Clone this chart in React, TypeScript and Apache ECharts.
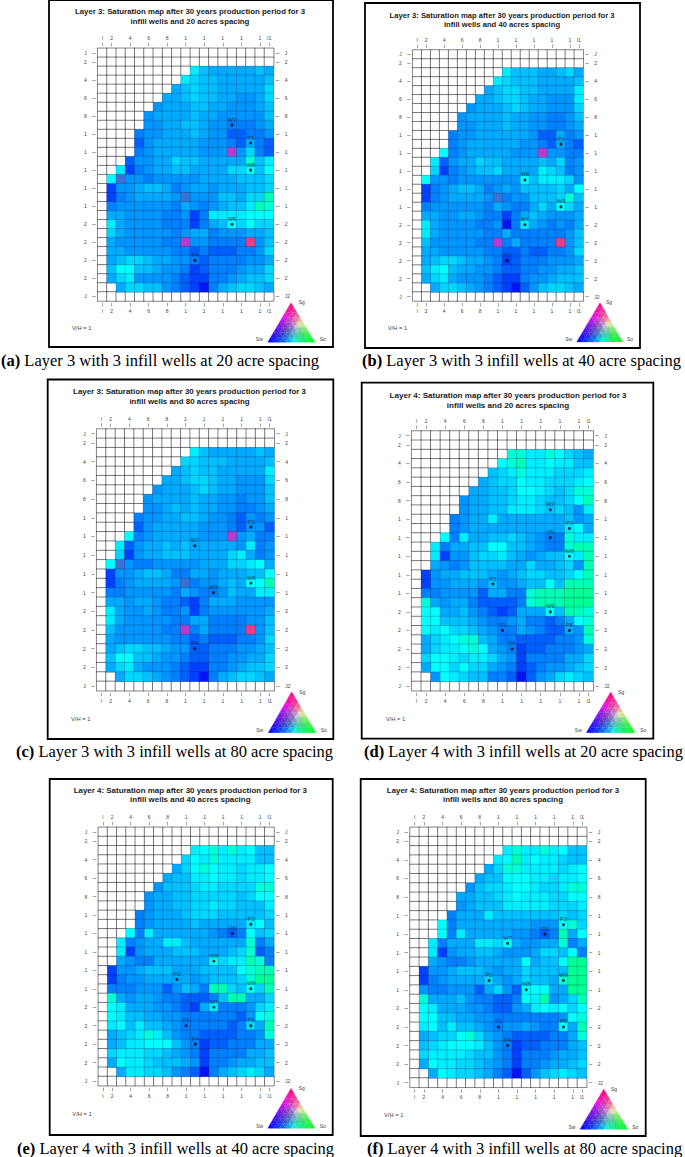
import React, { useEffect, useRef } from "react";
import * as echarts from "echarts";

// Column and row tick labels
const colLabels = ["I","2","","4","","6","","8","","1","","1","","1","","1","","1","I1"];
const rowLabels = ["J","2","","4","","6","","8","","1","","1","","1","","1","","1","","2","","2","","2","","2","","J"];
const rowLabelsRight = ["J","2","","4","","6","","8","","1","","1","","1","","1","","1","","2","","2","","2","","2","","J2"];

// Saturation classes: "." unfilled; 0-9,a,b,c go from water-rich (blue) to oil-rich (green);
// g grey-blue cell, m purple cell, p pink cell
const classCodes = ".0123456789abcgmp";
const classColors = ["#ffffff","#0014f4","#0040ff","#0060ff","#0080ff","#0096ff","#00abff","#00c0ff","#00d6ff","#00ecff","#00ffff","#00ffd8","#00ffb4","#00ff94","#3a72d2","#b83ccc","#e83e8c"];

const rowsA = [
"...................","...................",
"..........865555565",".........8766555556","........56766555557",".......556766554457",
"......4555665544456",".....45555655444446",".....44556654433345","....344555654422334",
"....245555544432532","....3455555444m4732","...2445576655555a68","..81345566555577969",
".9g4434444455556667",".144566534554555667",".13455554g44466577b",".3444444354345668ba",
".554444334138888999",".854444333135697977",".754444434553444556",".54444433m443333p46",
".554444433232223347",".567765544323333445",".699665443123334557",".578444432113345667",
"..57766432103567765","..................."];
const rowsB = [
"...................","...................",
"..........866655675",".........8766655556","........56776655558",".......556776554448",
"......4555676554447",".....45555655443346",".....44555655443345","....344555555422534",
"....345555554432532","...93455555444m4433","..82455766555565734","..71345667555587634",
".944344444449688874",".134566534546666759",".13455554g3446667a6",".344444435433575975",
".554455433135654445",".854444334038543435",".854444433533333346",".64444433m353333p46",
".554444433223223347",".567765543123334445",".689655443223344556",".578544432113445666",
"..57765432102467765","..................."];
const rowsC = [
"...................","...................",
"..........865555565",".........7766655556","........56766555558",".......556776554447",
"......4555676554446",".....45555655443446",".....44565655443345","....344556654432434",
"....245555544432442","...93455555444m4533","..82455656555554834","..71455666555578534",
".9g4334444455577895",".144566533554555669",".13455554g34456599b",".334444435433465588",
".554554332135554444",".854454334134444445",".854444433553333446",".64444433m353333p46",
".544444433232223347",".567766544223334456",".699665443223344557",".578544432113345667",
"..57765432103567765","..................."];
const rowsD = [
"...................","...................",
"..........aa88a9765",".........9ab8898866","........678a8887778",".......567798877789",
"......55667998767aa",".....4556678876679b",".....45566888767648","....345585555555645",
"....345555555555895","...9385566765433a88","..83556699665433abb","..8144677865456698b",
"..5434666655755674b",".14556665456776679b",".144555464456696bbb",".33444425533abbbccc",
".a5455322223abbbccc",".995564321255596bba",".99666543345332359a",".98977654335432254b",
".5789aa65332222334a",".57889a954312233345",".799878875413333557",".599797754312344567",
"..49876633202457876","..................."];
const rowsE = [
"...................","...................",
"..........89a8a8966",".........798a888866","........579a9887889",".......566889887889",
"......46667887777aa",".....45566777776799",".....45566778776668","....345556777666667",
"....345555655555896","...9385555554323967","..83455886555555a35","..81455566655567a23",
"..54335555559788ba3",".144566655566669abb",".134455555456667acc",".33344424653bb7697b",
".a545543322236bb557",".985554432158333478",".98665544333333249a",".89686654333332375b",
".5678a864332222334a",".568899964312233355",".788877654313333556",".598876665413345566",
"..58877643203567875","..................."];
const rowsF = [
"...................","...................",
"..........8a88a8966",".........89b8988766","........57aa8888789",".......566999887889",
"......46778998778aa",".....55667898887799",".....45666888887778","....355586666666767",
"...93555555554449a7","...9385555544323b59","..83555887954455a35","..81455665444577693",
"..543345555595669cc",".1445666545576666cc",".134555575457665acc",".4334442574299955cc",
".a555643322398b457b",".985554432245898979",".99665544333333349a",".89686654344543395b",
".56779a75432222335a",".678999864312233356",".788887664313334556",".598877654313345567",
"..59877653202467876","..................."];

// Wells: name, column index, row index
const wellsA: [string, number, number][] = [["W7",14,8],["P3",16,10],["W8",16,13],["W9",14,19],["P4",10,23]];
const wellsB: [string, number, number][] = [["P3",16,10],["W8",12,14],["W9",16,17],["W7",12,19],["P4",10,23]];
const wellsC: [string, number, number][] = [["P3",16,10],["W7",10,12],["W8",16,16],["W9",12,17],["P4",10,23]];
const wellsD: [string, number, number][] = [["W7",14,8],["P3",16,10],["P5",14,11],["W8",16,13],["P2",8,16],["W9",14,19],["P1",9,21],["P6",16,21],["P4",10,23]];
const wellsE: [string, number, number][] = [["P3",16,10],["P5",14,11],["W8",12,14],["P2",8,16],["W9",16,17],["W7",12,19],["P1",9,21],["P6",16,21],["P4",10,23]];
const wellsF: [string, number, number][] = [["P3",16,10],["P5",14,11],["W7",10,12],["P2",8,16],["W9",16,16],["W8",12,17],["P1",9,21],["P6",16,21],["P4",10,23]];

const titles = [
  ["Layer 3: Saturation map after 30 years production period for 3","infill wells and 20 acres spacing"],
  ["Layer 3: Saturation map after 30 years production period for 3","infill wells and 40 acres spacing"],
  ["Layer 3: Saturation map after 30 years production period for 3","infill wells and 80 acres spacing"],
  ["Layer 4: Saturation map after 30 years production period for 3","infill wells and 20 acres spacing"],
  ["Layer 4: Saturation map after 30 years production period for 3","infill wells and 40 acres spacing"],
  ["Layer 4: Saturation map after 30 years production period for 3","infill wells and 80 acres spacing"],
];
const captionTags = ["(a)","(b)","(c)","(d)","(e)","(f)"];
const captions = [
  "Layer 3 with 3 infill wells at 20 acre spacing",
  "Layer 3 with 3 infill wells at 40 acre spacing",
  "Layer 3 with 3 infill wells at 80 acre spacing",
  "Layer 4 with 3 infill wells at 20 acre spacing",
  "Layer 4 with 3 infill wells at 40 acre spacing",
  "Layer 4 with 3 infill wells at 80 acre spacing",
];

const panelRows = [rowsA, rowsB, rowsC, rowsD, rowsE, rowsF];
const panelWells = [wellsA, wellsB, wellsC, wellsD, wellsE, wellsF];

// Layout of each panel, in page pixels
const layouts = [
  { frame:[49,0,284,347], plot:[97.7,48.3,176,252.7], titleX:190, titleY:[11.7,21], titleSize:7.83, tri:[291,302.7,267.7,315,342.3], sg:[301.7,302], sw:[259.3,339.3], so:[322.7,339.3], vh:[72,328], cap:[1,360] },
  { frame:[365,3,275,345], plot:[412.7,50,170.6,251], titleX:502, titleY:[15.7,24.7], titleSize:7.67, tri:[600,302.7,576.7,622.7,342], sg:[609,302], sw:[568.7,339], so:[630,339], vh:[387.7,328], cap:[362,360] },
  { frame:[47.7,379.5,285.6,359.5], plot:[96.7,429,177.6,261.7], titleX:189.5, titleY:[391.7,401], titleSize:7.93, tri:[291.7,691.7,268.3,316,732.7], sg:[302.3,691.7], sw:[259.7,730], so:[323.7,730], vh:[71,718.7], cap:[16,751.7] },
  { frame:[361.7,382.7,291.6,356], plot:[411.7,431,181.6,259.7], titleX:508, titleY:[395.7,405], titleSize:8.07, tri:[610.7,692,586.3,635,732.7], sg:[621.3,692], sw:[578.3,730], so:[643.3,730], vh:[385.7,718.7], cap:[364,751.7] },
  { frame:[49.7,779,283,356], plot:[98.3,827.3,175.7,258.4], titleX:190.3, titleY:[790.3,799.7], titleSize:7.94, tri:[291,1088.3,267.7,315,1128.3], sg:[301.7,1087.7], sw:[259.7,1126], so:[322.7,1126], vh:[72.3,1114], cap:[17,1148] },
  { frame:[360.7,779,285,357], plot:[410,827.3,176.7,260], titleX:503, titleY:[790.3,799.7], titleSize:7.92, tri:[603.7,1089,580,627.7,1129.3], sg:[614,1089], sw:[572,1126.7], so:[635.3,1126.7], vh:[384,1115], cap:[367,1148] },
];

const SANS = '"Liberation Sans", Arial, sans-serif';
const SERIF = '"Liberation Serif", "Times New Roman", serif';

function ternaryColor(w: number, o: number, g: number): string {
  let r = g, gr = o, b = w + 0.5 * g + 0.12 * o;
  const m = Math.max(r, gr, b);
  const dim = 1 - 0.25 * 27 * w * o * g;
  r = (r / m) * dim; gr = (gr / m) * dim; b = (b / m) * dim;
  return `rgb(${Math.round(r * 255)},${Math.round(gr * 255)},${Math.round(b * 255)})`;
}

function ternaryLegend(tri: number[]) {
  const [ax, ay, lx, rx, by] = tri;
  const n = 8;
  const pt = (row: number, k: number) => {
    const t = row / n;
    const left = ax + (lx - ax) * t, right = ax + (rx - ax) * t;
    const x = row === 0 ? ax : left + ((right - left) * k) / row;
    return [x, ay + (by - ay) * t];
  };
  const bary = (row: number, k: number) => {
    const g = 1 - row / n;
    const o = k / n;
    return [1 - g - o, o, g];
  };
  const out: any[] = [];
  const add = (verts: [number, number][]) => {
    const bs = verts.map(([a, b]) => bary(a, b));
    const avg = [0, 1, 2].map((i) => (bs[0][i] + bs[1][i] + bs[2][i]) / 3);
    const fill = ternaryColor(avg[0], avg[1], avg[2]);
    out.push({
      type: "polygon",
      z: 5,
      shape: { points: verts.map(([a, b]) => pt(a, b)) },
      style: { fill, stroke: fill, lineWidth: 0.3 },
    });
  };
  for (let row = 0; row < n; row++) {
    for (let k = 0; k <= row; k++) {
      add([[row, k], [row + 1, k], [row + 1, k + 1]]);
      if (k < row) add([[row, k], [row, k + 1], [row + 1, k + 1]]);
    }
  }
  return out;
}

function smallText(text: string, x: number, y: number, align = "center", size = 5) {
  return {
    type: "text", x, y, z: 6,
    style: { text, fill: "#444", font: `${size}px ${SANS}`, align, verticalAlign: "middle" },
  };
}

function buildOption() {
  const grid: any[] = [], xAxis: any[] = [], yAxis: any[] = [], series: any[] = [], graphic: any[] = [];
  const heatIndices: number[] = [];
  const show = (_: number, v: string) => v !== "";
  layouts.forEach((l, i) => {
    const [gx, gy, gw, gh] = l.plot;
    grid.push({ left: gx, top: gy, width: gw, height: gh, containLabel: false, show: false });
    const xCommon = {
      type: "category", gridIndex: i, data: colLabels, offset: 2,
      axisLine: { show: false },
      splitLine: { show: false },
      axisTick: { show: true, alignWithLabel: true, length: 3.5, interval: show, lineStyle: { color: "#666", width: 0.6 } },
      axisLabel: { show: true, interval: show, fontSize: 5, margin: 5.5, color: "#444", fontFamily: SANS },
    };
    xAxis.push({ ...xCommon, position: "bottom" }, { ...xCommon, position: "top" });
    const yCommon = {
      type: "category", gridIndex: i, inverse: true, offset: 2,
      axisLine: { show: false },
      splitLine: { show: false },
      axisTick: { show: true, alignWithLabel: true, length: 3.5, interval: show, lineStyle: { color: "#666", width: 0.6 } },
      axisLabel: { show: true, interval: show, fontSize: 5, margin: 9, color: "#444", fontFamily: SANS },
    };
    yAxis.push({ ...yCommon, data: rowLabels, position: "left" }, { ...yCommon, data: rowLabelsRight, position: "right" });

    const blank: number[][] = [];
    const filled: number[][] = [];
    panelRows[i].forEach((row, r) => {
      const s = row.padStart(19, ".");
      for (let c = 0; c < 19; c++) {
        const v = classCodes.indexOf(s[c]);
        (v === 0 ? blank : filled).push([c, r, v]);
      }
    });
    heatIndices.push(series.length, series.length + 1);
    series.push({
      type: "heatmap", xAxisIndex: i * 2, yAxisIndex: i * 2, data: blank, progressive: 0,
      itemStyle: { borderColor: "rgba(30,30,40,0.78)", borderWidth: 0.7 },
      emphasis: { disabled: true },
    });
    series.push({
      type: "heatmap", xAxisIndex: i * 2, yAxisIndex: i * 2, data: filled, progressive: 0,
      itemStyle: { borderColor: "rgba(20,20,50,0.36)", borderWidth: 0.6 },
      emphasis: { disabled: true },
    });
    series.push({
      type: "scatter", xAxisIndex: i * 2, yAxisIndex: i * 2, symbolSize: 3, z: 4,
      itemStyle: { color: "#000" },
      data: panelWells[i].map(([name, c, r]) => ({ name, value: [c, r] })),
      label: { show: true, position: "top", distance: 1, formatter: "{b}", fontSize: 5.5, color: "#123", fontFamily: SANS },
      emphasis: { disabled: true },
    });

    const [fx, fy, fw, fh] = l.frame;
    graphic.push({ type: "rect", z: 0, shape: { x: fx, y: fy, width: fw, height: fh }, style: { fill: "#fff", stroke: "#000", lineWidth: 1.8 } });
    titles[i].forEach((t, k) => {
      graphic.push({
        type: "text", x: l.titleX, y: l.titleY[k], z: 6,
        style: { text: t, fill: "#222", font: `bold ${l.titleSize}px ${SANS}`, align: "center", verticalAlign: "middle" },
      });
    });
    graphic.push(...ternaryLegend(l.tri));
    graphic.push(smallText("Sg", l.sg[0], l.sg[1]), smallText("Sw", l.sw[0], l.sw[1]), smallText("So", l.so[0], l.so[1]));
    graphic.push(smallText("V/H = 1", l.vh[0], l.vh[1], "left", 5.8));
    graphic.push({
      type: "text", x: l.cap[0], y: l.cap[1], z: 6,
      style: {
        text: `{b|${captionTags[i]}} ${captions[i]}`,
        fill: "#000", align: "left", verticalAlign: "middle",
        font: `16.5px ${SERIF}`,
        rich: { b: { fontFamily: SERIF, fontSize: 16.5, fontWeight: "bold", fill: "#000" } },
      },
    });
  });
  return {
    animation: false,
    backgroundColor: "#fff",
    tooltip: { show: false },
    grid, xAxis, yAxis, series, graphic,
    visualMap: {
      type: "piecewise", show: false, seriesIndex: heatIndices, dimension: 2,
      pieces: classColors.map((color, v) => ({ value: v, color })),
    },
  };
}

export default function App() {
  const ref = useRef<HTMLDivElement>(null);
  useEffect(() => {
    document.body.style.margin = "0";
    const chart = echarts.init(ref.current!, undefined, { renderer: "svg", width: 685, height: 1157 });
    chart.setOption(buildOption() as any);
    return () => chart.dispose();
  }, []);
  return <div ref={ref} style={{ width: 685, height: 1157 }} />;
}
